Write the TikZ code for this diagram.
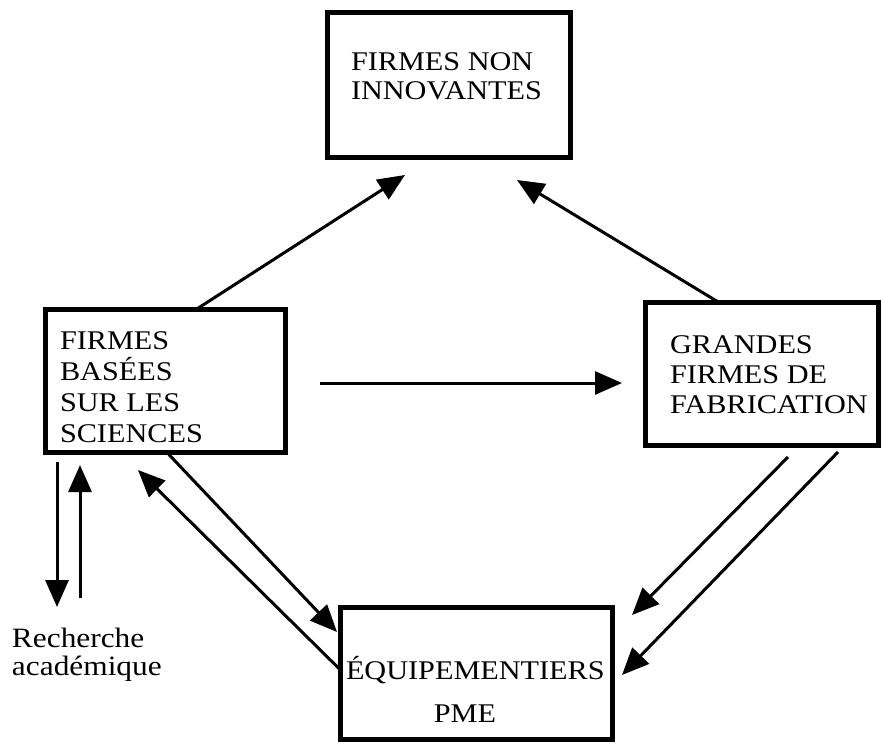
\documentclass[tikz,border=0pt]{standalone}
\usepackage{fontspec}
\setmainfont{Liberation Serif}[FakeStretch=1.12]
\usetikzlibrary{arrows.meta}
\begin{document}
\begin{tikzpicture}[x=1pt,y=-1pt,
  box/.style={draw, line width=5pt, inner sep=0pt, outer sep=0pt},
  lbl/.style={inner sep=0pt, outer sep=0pt, align=left, font=\fontsize{27}{30}\selectfont},
  arr/.style={line width=3pt, -{Triangle[length=27pt,width=23pt]}}]
\useasboundingbox (0,0) rectangle (881,744);
% boxes
\node[box, minimum width=243pt, minimum height=145pt] (T) at (449,85) {};
\node[box, minimum width=240pt, minimum height=143pt] (L) at (165.5,381) {};
\node[box, minimum width=233pt, minimum height=143pt] (R) at (762,374) {};
\node[box, minimum width=272pt, minimum height=132pt] (B) at (476.5,673.5) {};
% texts (base anchor = baseline of the last line)
\node[lbl, font=\fontsize{27}{29}\selectfont, anchor=base west] (tT) at (351,99) {FIRMES NON\\INNOVANTES};
\node[lbl, font=\fontsize{27}{30.7}\selectfont, anchor=base west] (tL) at (60,442) {FIRMES\\BASÉES\\SUR LES\\SCIENCES};
\node[lbl, anchor=base west] (tR) at (670,413) {GRANDES\\FIRMES DE\\FABRICATION};
\node[lbl, anchor=base west] (tB1) at (346,679) {ÉQUIPEMENTIERS};
\node[lbl, anchor=base] (tB2) at (465,722) {PME};
\node[lbl, font=\fontsize{28}{28}\selectfont, anchor=base west] (rech) at (12,675) {Recherche\\académique};
% free ends
\coordinate (dn) at (57,607);
\coordinate (up) at (80,598);
% arrows
\draw[arr] ([xshift=30.5pt]L.north) -- ([xshift=-44pt,yshift=-17.5pt]T.south);
\draw[arr] ([xshift=-43pt]R.north) -- ([xshift=68pt,yshift=-22.5pt]T.south);
\draw[arr] ([xshift=34.5pt,yshift=-2pt]L.east) -- ([xshift=-23.5pt,yshift=-9pt]R.west);
\draw[arr] ([xshift=-108.5pt,yshift=-9.5pt]L.south) -- (dn);
\draw[arr] (up) -- ([xshift=-85.5pt,yshift=-12.5pt]L.south);
\draw[arr] ([xshift=1.5pt]L.south) -- ([xshift=-3.5pt,yshift=41.5pt]B.west);
\draw[arr] ([yshift=3.5pt]B.west) -- ([xshift=-27.5pt,yshift=-17.5pt]L.south);
\draw[arr] ([xshift=26pt,yshift=-11.5pt]R.south) -- ([xshift=19.5pt,yshift=58.5pt]B.east);
\draw[arr] ([xshift=76pt,yshift=-6.5pt]R.south) -- ([xshift=9.5pt,yshift=-1.5pt]B.east);
\end{tikzpicture}
\end{document}
